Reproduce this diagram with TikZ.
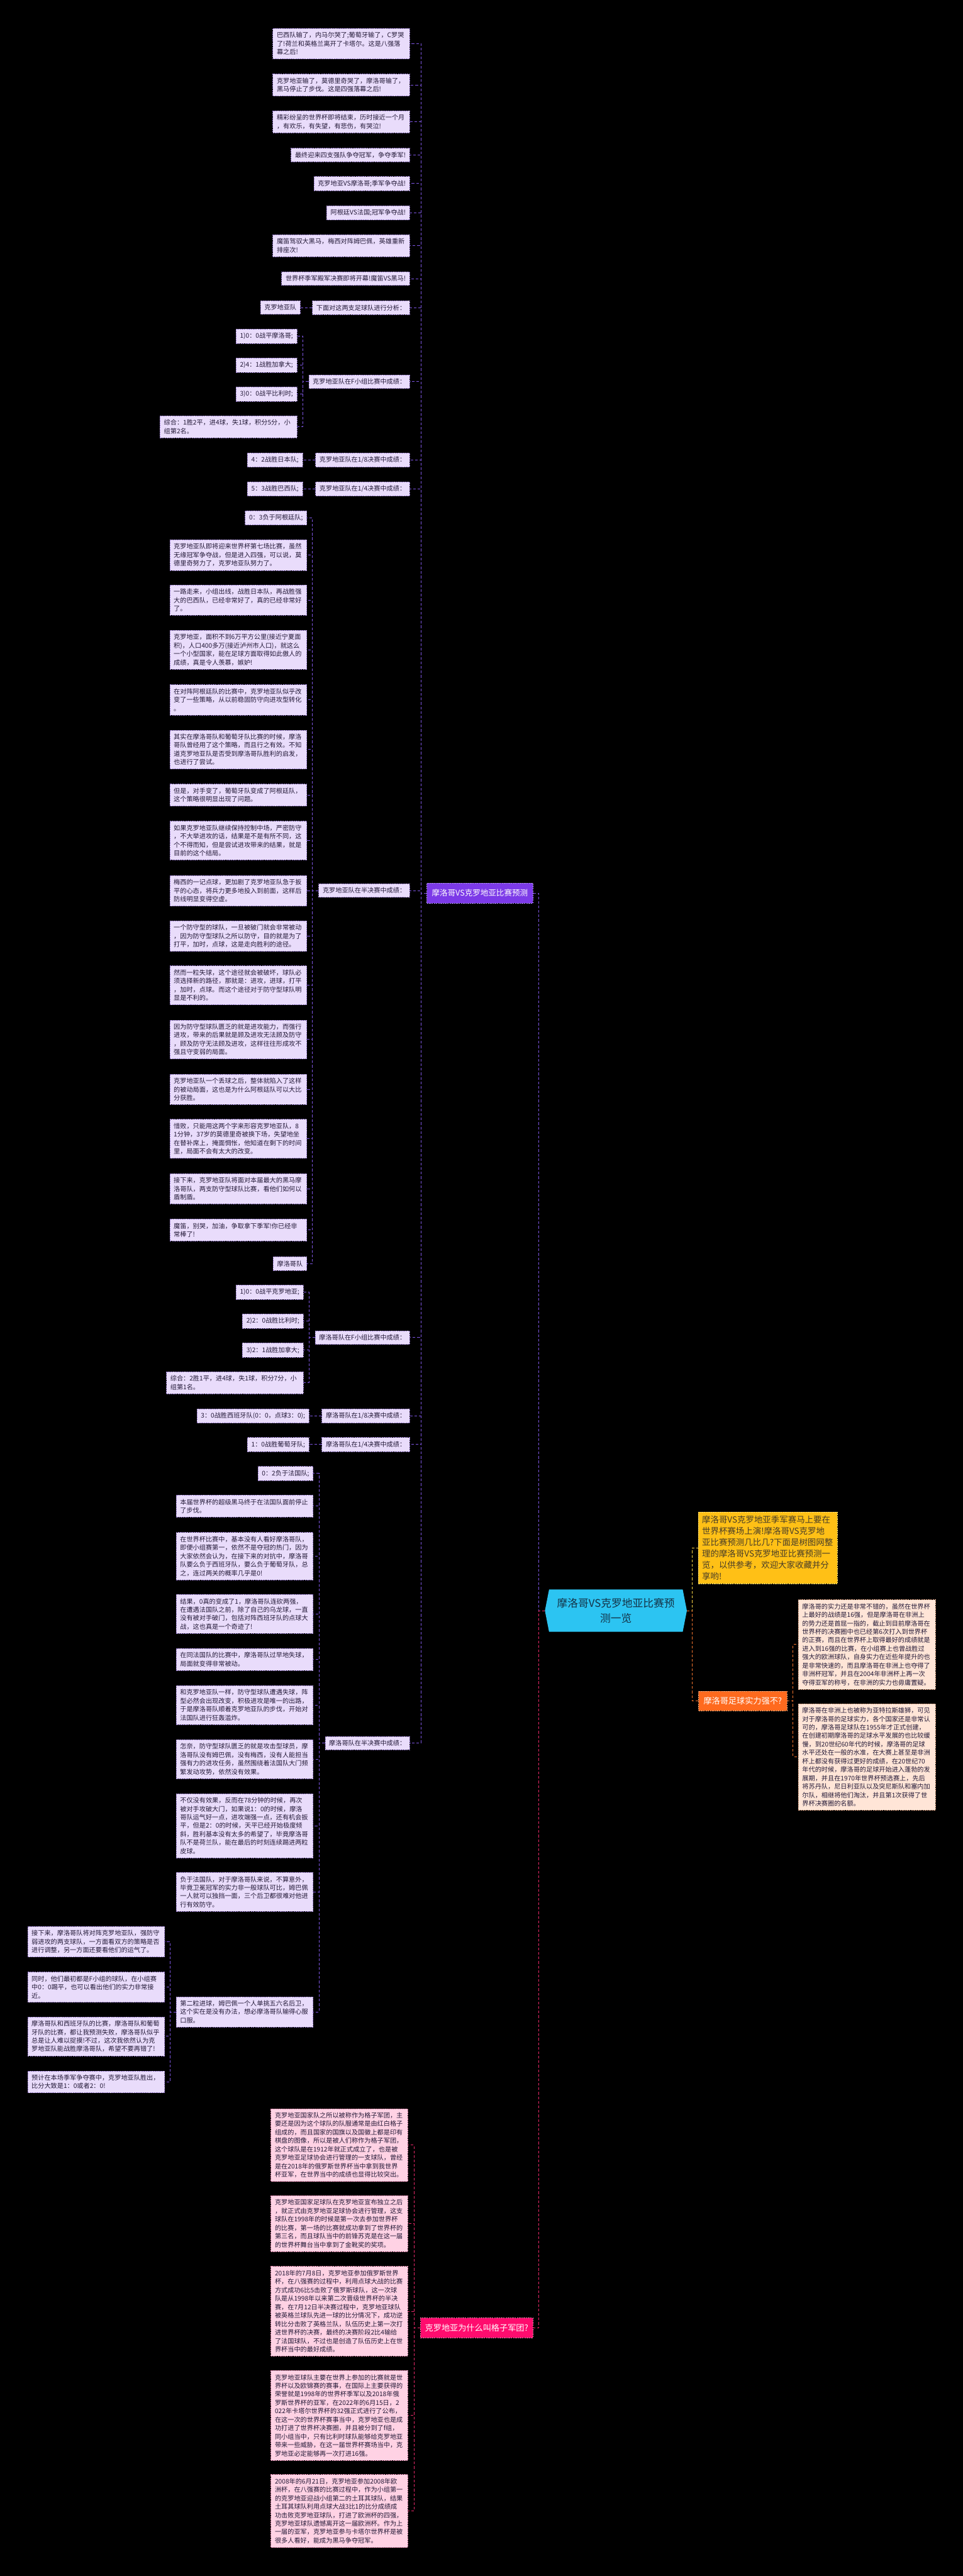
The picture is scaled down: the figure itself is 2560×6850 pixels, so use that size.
\documentclass[tikz,border=0pt]{standalone}
\usepackage{fontspec}
\setmainfont{Noto Sans CJK SC}
\usetikzlibrary{calc}
\definecolor{pfill}{RGB}{233,220,251}
\definecolor{pline}{RGB}{125,85,225}
\definecolor{pbord}{RGB}{150,125,200}
\definecolor{ptext}{RGB}{35,25,55}
\definecolor{pnode}{RGB}{124,58,232}
\definecolor{pnbord}{RGB}{175,145,245}
\definecolor{kfill}{RGB}{255,210,228}
\definecolor{kline}{RGB}{232,40,105}
\definecolor{kbord}{RGB}{225,140,175}
\definecolor{knode}{RGB}{255,12,110}
\definecolor{knbord}{RGB}{255,120,170}
\definecolor{rootc}{RGB}{44,196,242}
\definecolor{roottext}{RGB}{20,50,70}
\definecolor{yfill}{RGB}{255,192,22}
\definecolor{ybord}{RGB}{255,225,120}
\definecolor{ytext}{RGB}{70,60,40}
\definecolor{yline}{RGB}{255,214,70}
\definecolor{ofill}{RGB}{255,106,30}
\definecolor{obord}{RGB}{255,170,120}
\definecolor{oline}{RGB}{240,115,45}
\definecolor{bfill}{RGB}{255,229,215}
\definecolor{bbord}{RGB}{215,160,130}
\pgfdeclarelayer{bg}
\pgfsetlayers{bg,main}
\begin{document}
\begin{tikzpicture}[x=1pt,y=-1pt,
  box/.style={line width=1.1pt, dash pattern=on 4pt off 2pt, align=left,
    inner xsep=10.5pt, inner ysep=10pt, font=\fontsize{17pt}{22.5pt}\selectfont},
  pleaf/.style={box, draw=pbord, fill=pfill, text=ptext},
  ppara/.style={pleaf, text width=343pt},
  kpara/.style={box, draw=kbord, fill=kfill, text=ptext, text width=343pt},
  bpara/.style={box, draw=bbord, fill=bfill, text=ptext, text width=343pt},
  pc/.style={draw=pline, line width=1.6pt, dash pattern=on 7pt off 5pt},
  kc/.style={draw=kline, line width=1.6pt, dash pattern=on 7pt off 5pt},
  yc/.style={draw=yline, line width=1.6pt, dash pattern=on 7pt off 5pt},
  oc/.style={draw=oline, line width=1.6pt, dash pattern=on 7pt off 5pt},
  bignode/.style={line width=1.1pt, dash pattern=on 4pt off 2pt, text=white, inner xsep=13pt}
]
\useasboundingbox (0,0) rectangle (2560,6850);
\begin{pgfonlayer}{bg}
\fill[black] (0,0) rectangle (2560,6850);
\end{pgfonlayer}

% ---------- root ----------
\node[rectangle, minimum width=377pt, minimum height=112pt, align=center, text=roottext,
  font=\fontsize{28pt}{39pt}\selectfont] (root) at (1637.5,4283) {摩洛哥VS克罗地亚比赛预\\测一览};
\begin{pgfonlayer}{bg}
\fill[rootc] ($(root.north west)+(11,0)$) -- ($(root.north east)+(-11,0)$) -- (root.east)
  -- ($(root.south east)+(-11,0)$) -- ($(root.south west)+(11,0)$) -- (root.west) -- cycle;
\end{pgfonlayer}

% ---------- right side ----------
\node[box, draw=ybord, fill=yfill, text=ytext, text width=350pt, inner xsep=10pt,
  font=\fontsize{22.5pt}{30pt}\selectfont, anchor=west] (yel) at (1856,4116)
  {摩洛哥VS克罗地亚季军赛马上要在\\世界杯赛场上演!摩洛哥VS克罗地\\亚比赛预测几比几?下面是树图网整\\理的摩洛哥VS克罗地亚比赛预测一\\览，以供参考，欢迎大家收藏并分\\享哟!};
\node[bignode, draw=obord, fill=ofill, font=\fontsize{22pt}{28pt}\selectfont,
  minimum height=51pt, anchor=west] (strong) at (1857,4523) {摩洛哥足球实力强不?};
\node[bpara, anchor=west] (b1) at (2122,4373)
  {摩洛哥的实力还是非常不错的，虽然在世界杯\\上最好的战绩是16强，但是摩洛哥在非洲上\\的势力还是首屈一指的，截止到目前摩洛哥在\\世界杯的决赛圈中也已经第6次打入到世界杯\\的正赛，而且在世界杯上取得最好的成绩就是\\进入到16强的比赛，在小组赛上也曾战胜过\\强大的欧洲球队，自身实力在近些年提升的也\\是非常快速的，而且摩洛哥在非洲上也夺得了\\非洲杯冠军，并且在2004年非洲杯上再一次\\夺得亚军的称号，在非洲的实力也毋庸置疑。};
\node[bpara, anchor=west] (b2) at (2122,4672)
  {摩洛哥在非洲上也被称为亚特拉斯雄狮，可见\\对于摩洛哥的足球实力，各个国家还是非常认\\可的，摩洛哥足球队在1955年才正式创建，\\在创建初期摩洛哥的足球水平发展的也比较缓\\慢，到20世纪60年代的时候，摩洛哥的足球\\水平还处在一般的水准，在大赛上甚至是非洲\\杯上都没有获得过更好的成绩，在20世纪70\\年代的时候，摩洛哥的足球开始进入蓬勃的发\\展期，并且在1970年世界杯预选赛上，先后\\将苏丹队，尼日利亚队以及突尼斯队和塞内加\\尔队，相继将他们淘汰，并且第1次获得了世\\界杯决赛圈的名额。};

\draw[yc] (root.east) -- ++(15,0) |- (yel.west);
\draw[oc] (root.east) -- ++(15,0) |- (strong.west);
\draw[oc] (strong.east) -- ++(16,0) |- (b1.west);
\draw[oc] (strong.east) -- ++(16,0) |- (b2.west);

% ---------- purple branch ----------
\node[bignode, draw=pnbord, fill=pnode, font=\fontsize{21pt}{27pt}\selectfont,
  minimum height=54pt, anchor=east] (branch) at (1417,2375) {摩洛哥VS克罗地亚比赛预测};
\draw[pc] (root.west) -- ++(-16,0) |- (branch.east);

\node[ppara, anchor=east] (t1) at (1090,116) {巴西队输了，内马尔哭了;葡萄牙输了，C罗哭\\了!荷兰和英格兰离开了卡塔尔。这是八强落\\幕之后!};
\node[ppara, anchor=east] (t2) at (1090,226) {克罗地亚输了，莫德里奇哭了，摩洛哥输了，\\黑马停止了步伐。这是四强落幕之后!};
\node[ppara, anchor=east] (t3) at (1090,324) {精彩纷呈的世界杯即将结束，历时接近一个月\\，有欢乐，有失望，有悲伤，有哭泣!};
\node[pleaf, anchor=east] (t4) at (1090,412) {最终迎来四支强队争夺冠军，争夺季军!};
\node[pleaf, anchor=east] (t5) at (1090,488) {克罗地亚VS摩洛哥;季军争夺战!};
\node[pleaf, anchor=east] (t6) at (1090,566) {阿根廷VS法国;冠军争夺战!};
\node[ppara, anchor=east] (t7) at (1090,653) {魔笛驾驭大黑马，梅西对阵姆巴佩，英雄重新\\排座次!};
\node[pleaf, anchor=east] (t8) at (1090,741) {世界杯季军殿军决赛即将开幕!魔笛VS黑马!};
\node[pleaf, anchor=east] (t9) at (1090,818) {下面对这两支足球队进行分析：};
\node[pleaf, anchor=east] (tk) at (799,818) {克罗地亚队};

\node[pleaf, anchor=east] (cf) at (1090,1015) {克罗地亚队在F小组比赛中成绩：};
\node[pleaf, anchor=east] (cf1) at (790,894) {1)0：0战平摩洛哥;};
\node[pleaf, anchor=east] (cf2) at (790,971) {2)4：1战胜加拿大;};
\node[pleaf, anchor=east] (cf3) at (790,1048) {3)0：0战平比利时;};
\node[ppara, anchor=east] (cf4) at (790,1135) {综合：1胜2平，进4球，失1球，积分5分，小\\组第2名。};

\node[pleaf, anchor=east] (c18) at (1090,1223) {克罗地亚队在1/8决赛中成绩：};
\node[pleaf, anchor=east] (c18a) at (805,1223) {4：2战胜日本队;};
\node[pleaf, anchor=east] (c14) at (1090,1300) {克罗地亚队在1/4决赛中成绩：};
\node[pleaf, anchor=east] (c14a) at (805,1300) {5：3战胜巴西队;};

\node[pleaf, anchor=east] (cs) at (1090,2368) {克罗地亚队在半决赛中成绩：};
\node[pleaf, anchor=east] (cs0) at (816,1377) {0：3负于阿根廷队;};
\node[ppara, anchor=east] (cs1) at (816,1476) {克罗地亚队即将迎来世界杯第七场比赛，虽然\\无缘冠军争夺战，但是进入四强，可以说，莫\\德里奇努力了，克罗地亚队努力了。};
\node[ppara, anchor=east] (cs2) at (816,1596) {一路走来，小组出线，战胜日本队，再战胜强\\大的巴西队，已经非常好了，真的已经非常好\\了。};
\node[ppara, anchor=east] (cs3) at (816,1728) {克罗地亚，面积不到6万平方公里(接近宁夏面\\积)，人口400多万(接近泸州市人口)，就这么\\一个小型国家，能在足球方面取得如此傲人的\\成绩，真是令人羡慕，嫉妒!};
\node[ppara, anchor=east] (cs4) at (816,1861) {在对阵阿根廷队的比赛中，克罗地亚队似乎改\\变了一些策略，从以前稳固防守向进攻型转化\\。};
\node[ppara, anchor=east] (cs5) at (816,1993) {其实在摩洛哥队和葡萄牙队比赛的时候，摩洛\\哥队曾经用了这个策略，而且行之有效。不知\\道克罗地亚队是否受到摩洛哥队胜利的启发，\\也进行了尝试。};
\node[ppara, anchor=east] (cs6) at (816,2114) {但是，对手变了，葡萄牙队变成了阿根廷队，\\这个策略很明显出现了问题。};
\node[ppara, anchor=east] (cs7) at (816,2235) {如果克罗地亚队继续保持控制中场，严密防守\\，不大举进攻的话，结果是不是有所不同，这\\个不得而知，但是尝试进攻带来的结果，就是\\目前的这个结局。};
\node[ppara, anchor=east] (cs8) at (816,2369) {梅西的一记点球，更加剧了克罗地亚队急于扳\\平的心态，将兵力更多地投入到前面，这样后\\防线明显变得空虚。};
\node[ppara, anchor=east] (cs9) at (816,2489) {一个防守型的球队，一旦被破门就会非常被动\\，因为防守型球队之所以防守，目的就是为了\\打平，加时，点球，这是走向胜利的途径。};
\node[ppara, anchor=east] (cs10) at (816,2620) {然而一粒失球，这个途径就会被破坏，球队必\\须选择新的路径，那就是：进攻，进球，打平\\，加时，点球。而这个途径对于防守型球队明\\显是不利的。};
\node[ppara, anchor=east] (cs11) at (816,2764) {因为防守型球队匮乏的就是进攻能力，而强行\\进攻，带来的后果就是顾及进攻无法顾及防守\\，顾及防守无法顾及进攻，这样往往形成攻不\\强且守变弱的局面。};
\node[ppara, anchor=east] (cs12) at (816,2897) {克罗地亚队一个丢球之后，整体就陷入了这样\\的被动局面，这也是为什么阿根廷队可以大比\\分获胜。};
\node[ppara, anchor=east] (cs13) at (816,3028) {惜败，只能用这两个字来形容克罗地亚队，8\\1分钟，37岁的莫德里奇被换下场，失望地坐\\在替补席上，掩面惆怅，他知道在剩下的时间\\里，局面不会有太大的改变。};
\node[ppara, anchor=east] (cs14) at (816,3161) {接下来，克罗地亚队将面对本届最大的黑马摩\\洛哥队，两支防守型球队比赛，看他们如何以\\盾制盾。};
\node[ppara, anchor=east] (cs15) at (816,3271) {魔笛，别哭，加油，争取拿下季军!你已经非\\常棒了!};
\node[pleaf, anchor=east] (cs16) at (816,3360) {摩洛哥队};

\node[pleaf, anchor=east] (mf) at (1090,3557) {摩洛哥队在F小组比赛中成绩：};
\node[pleaf, anchor=east] (mf1) at (807,3436) {1)0：0战平克罗地亚;};
\node[pleaf, anchor=east] (mf2) at (807,3513) {2)2：0战胜比利时;};
\node[pleaf, anchor=east] (mf3) at (807,3590) {3)2：1战胜加拿大;};
\node[ppara, anchor=east] (mf4) at (807,3677) {综合：2胜1平，进4球，失1球，积分7分，小\\组第1名。};

\node[pleaf, anchor=east] (m18) at (1090,3765) {摩洛哥队在1/8决赛中成绩：};
\node[pleaf, anchor=east] (m18a) at (822,3765) {3：0战胜西班牙队(0：0，点球3：0);};
\node[pleaf, anchor=east] (m14) at (1090,3841) {摩洛哥队在1/4决赛中成绩：};
\node[pleaf, anchor=east] (m14a) at (822,3841) {1：0战胜葡萄牙队;};

\node[pleaf, anchor=east] (ms) at (1090,4635) {摩洛哥队在半决赛中成绩：};
\node[pleaf, anchor=east] (ms1) at (833,3918) {0：2负于法国队;};
\node[ppara, anchor=east] (ms2) at (833,4005) {本届世界杯的超级黑马终于在法国队面前停止\\了步伐。};
\node[ppara, anchor=east] (ms3) at (833,4138) {在世界杯比赛中，基本没有人看好摩洛哥队，\\即便小组赛第一，依然不是夺冠的热门，因为\\大家依然会认为，在接下来的对抗中，摩洛哥\\队要么负于西班牙队，要么负于葡萄牙队，总\\之，连过两关的概率几乎是0!};
\node[ppara, anchor=east] (ms4) at (833,4292) {结果，0真的变成了1，摩洛哥队连砍两强，\\在遭遇法国队之前，除了自己的乌龙球，一直\\没有被对手破门，包括对阵西班牙队的点球大\\战，这也真是一个奇迹了!};
\node[ppara, anchor=east] (ms5) at (833,4413) {在同法国队的比赛中，摩洛哥队过早地失球，\\局面就变得非常被动。};
\node[ppara, anchor=east] (ms6) at (833,4534) {和克罗地亚队一样，防守型球队遭遇失球，阵\\型必然会出现改变，积极进攻是唯一的出路，\\于是摩洛哥队顺着克罗地亚队的步伐，开始对\\法国队进行狂轰滥炸。};
\node[ppara, anchor=east] (ms7) at (833,4678) {怎奈，防守型球队匮乏的就是攻击型球员，摩\\洛哥队没有姆巴佩，没有梅西，没有人能担当\\强有力的进攻任务，虽然围绕着法国队大门频\\繁发动攻势，依然没有效果。};
\node[ppara, anchor=east] (ms8) at (833,4855) {不仅没有效果，反而在78分钟的时候，再次\\被对手攻破大门，如果说1：0的时候，摩洛\\哥队运气好一点，进攻端强一点，还有机会扳\\平，但是2：0的时候，天平已经开始极度倾\\斜，胜利基本没有太多的希望了，毕竟摩洛哥\\队不是荷兰队，能在最后的时刻连续踢进两粒\\皮球。};
\node[ppara, anchor=east] (ms9) at (833,5031) {负于法国队，对于摩洛哥队来说，不算意外，\\毕竟卫冕冠军的实力非一般球队可比，姆巴佩\\一人就可以独挡一面，三个后卫都很难对他进\\行有效防守。};
\node[ppara, anchor=east] (ms10) at (833,5350) {第二粒进球，姆巴佩一个人单挑五六名后卫，\\这个实在是没有办法，想必摩洛哥队输得心服\\口服。};
\node[ppara, anchor=east] (r1) at (438,5163) {接下来，摩洛哥队将对阵克罗地亚队，强防守\\弱进攻的两支球队，一方面看双方的策略是否\\进行调整，另一方面还要看他们的运气了。};
\node[ppara, anchor=east] (r2) at (438,5284) {同时，他们最初都是F小组的球队，在小组赛\\中0：0踢平，也可以看出他们的实力非常接\\近。};
\node[ppara, anchor=east] (r3) at (438,5415) {摩洛哥队和西班牙队的比赛，摩洛哥队和葡萄\\牙队的比赛，都让我预测失败，摩洛哥队似乎\\总是让人难以捉摸!不过，这次我依然认为克\\罗地亚队能战胜摩洛哥队，希望不要再错了!};
\node[ppara, anchor=east] (r4) at (438,5536) {预计在本场季军争夺赛中，克罗地亚队胜出，\\比分大致是1：0或者2：0!};

% purple connectors
\foreach \c in {t1,t2,t3,t4,t5,t6,t7,t8,t9,cf,c18,c14,cs,mf,m18,m14,ms}
  \draw[pc] (branch.west) -- ++(-15,0) |- (\c.east);
\draw[pc] (t9.west) -- (tk.east);
\foreach \c in {cf1,cf2,cf3,cf4}
  \draw[pc] (cf.west) -- ++(-15,0) |- (\c.east);
\draw[pc] (c18.west) -- (c18a.east);
\draw[pc] (c14.west) -- (c14a.east);
\foreach \c in {cs0,cs1,cs2,cs3,cs4,cs5,cs6,cs7,cs8,cs9,cs10,cs11,cs12,cs13,cs14,cs15,cs16}
  \draw[pc] (cs.west) -- ++(-16,0) |- (\c.east);
\foreach \c in {mf1,mf2,mf3,mf4}
  \draw[pc] (mf.west) -- ++(-16,0) |- (\c.east);
\draw[pc] (m18.west) -- (m18a.east);
\draw[pc] (m14.west) -- (m14a.east);
\foreach \c in {ms1,ms2,ms3,ms4,ms5,ms6,ms7,ms8,ms9,ms10}
  \draw[pc] (ms.west) -- ++(-16,0) |- (\c.east);
\foreach \c in {r1,r2,r3,r4}
  \draw[pc] (ms10.west) -- ++(-16,0) |- (\c.east);

% ---------- pink branch ----------
\node[bignode, draw=knbord, fill=knode, font=\fontsize{22pt}{28pt}\selectfont,
  minimum height=53pt, inner xsep=12pt, anchor=east] (pink) at (1417,6190) {克罗地亚为什么叫格子军团?};
\draw[kc] (root.west) -- ++(-16,0) |- (pink.east);

\node[kpara, anchor=east] (k1) at (1085,5704) {克罗地亚国家队之所以被称作为格子军团，主\\要还是因为这个球队的队服通常是由红白格子\\组成的，而且国家的国旗以及国徽上都是印有\\棋盘的图像，所以是被人们称作为格子军团，\\这个球队是在1912年就正式成立了，也是被\\克罗地亚足球协会进行管理的一支球队，曾经\\是在2018年的俄罗斯世界杯当中拿到我世界\\杯亚军，在世界当中的成绩也显得比较突出。};
\node[kpara, anchor=east] (k2) at (1085,5913) {克罗地亚国家足球队在克罗地亚宣布独立之后\\，就正式由克罗地亚足球协会进行管理，这支\\球队在1998年的时候是第一次去参加世界杯\\的比赛，第一场的比赛就成功拿到了世界杯的\\第三名，而且球队当中的前锋苏克是在这一届\\的世界杯舞台当中拿到了金靴奖的奖项。};
\node[kpara, anchor=east] (k3) at (1085,6146) {2018年的7月8日，克罗地亚参加俄罗斯世界\\杯，在八强赛的过程中，利用点球大战的比赛\\方式成功6比5击败了俄罗斯球队，这一次球\\队是从1998年以来第二次晋级世界杯的半决\\赛，在7月12日半决赛过程中，克罗地亚球队\\被英格兰球队先进一球的比分情况下，成功逆\\转比分击败了英格兰队，队伍历史上第一次打\\进世界杯的决赛，最终的决赛阶段2比4输给\\了法国球队，不过也是创造了队伍历史上在世\\界杯当中的最好成绩。};
\node[kpara, anchor=east] (k4) at (1085,6423) {克罗地亚球队主要在世界上参加的比赛就是世\\界杯以及欧锦赛的赛事，在国际上主要获得的\\荣誉就是1998年的世界杯季军以及2018年俄\\罗斯世界杯的亚军，在2022年的6月15日，2\\022年卡塔尔世界杯的32强正式进行了公布，\\在这一次的世界杯赛事当中，克罗地亚也是成\\功打进了世界杯决赛圈，并且被分到了f组，\\同小组当中，只有比利时球队能够给克罗地亚\\带来一些威胁，在这一届世界杯赛场当中，克\\罗地亚必定能够再一次打进16强。};
\node[kpara, anchor=east] (k5) at (1085,6677) {2008年的6月21日，克罗地亚参加2008年欧\\洲杯，在八强赛的比赛过程中，作为小组第一\\的克罗地亚迎战小组第二的土耳其球队，结果\\土耳其球队利用点球大战3比1的比分成绩成\\功击败克罗地亚球队，打进了欧洲杯的四强，\\克罗地亚球队遗憾离开这一届欧洲杯。作为上\\一届的亚军，克罗地亚参与卡塔尔世界杯是被\\很多人看好，能成为黑马争夺冠军。};
\foreach \c in {k1,k2,k3,k4,k5}
  \draw[kc] (pink.west) -- ++(-16,0) |- (\c.east);
\end{tikzpicture}
\end{document}
